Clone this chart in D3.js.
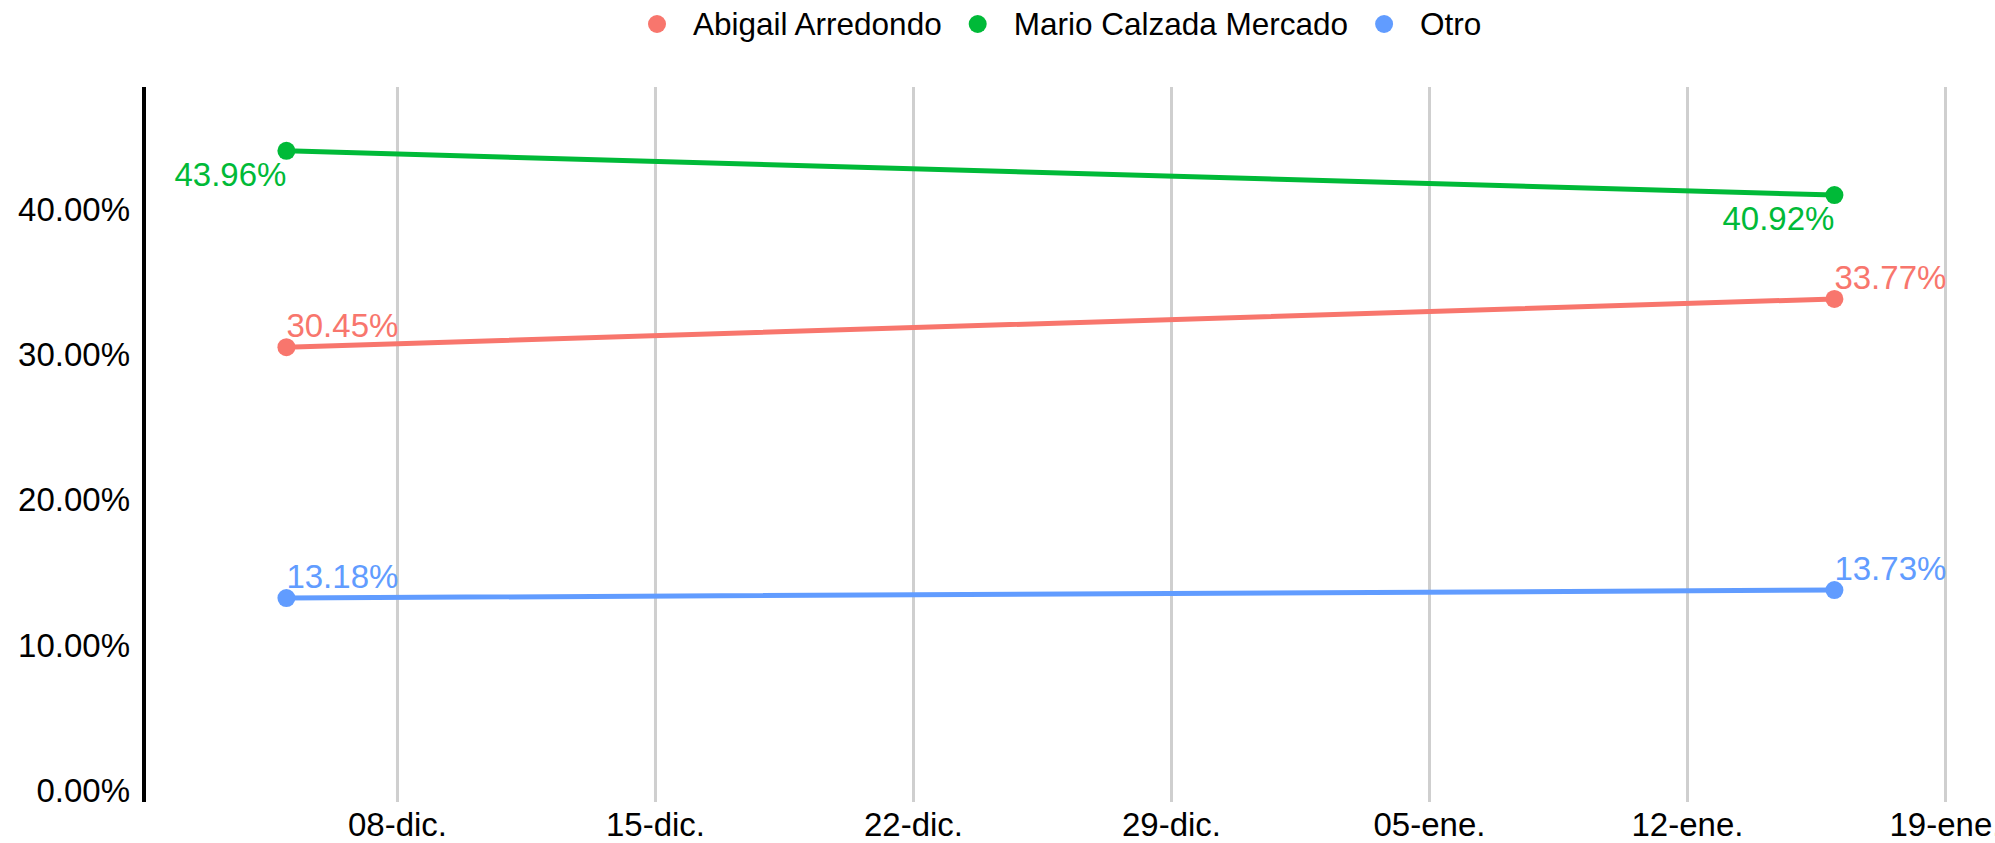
<!DOCTYPE html>
<html>
<head>
<meta charset="utf-8">
<script src="https://cdn.jsdelivr.net/npm/d3@7"></script>
<style>
  html, body { margin: 0; padding: 0; background: #ffffff; }
  svg { display: block; font-family: "Liberation Sans", Arial, Helvetica, sans-serif; }
</style>
</head>
<body>
<svg id="chart" width="1995" height="843"></svg>
<script>
// ---- data ----
const dates = ["2024-12-05", "2025-01-16"];
const seriesNames = ["Abigail Arredondo", "Mario Calzada Mercado", "Otro"];
const abigail = [30.45, 33.77];
const mario = [43.96, 40.92];
const otro = [13.18, 13.73];
const yTickValues = [0, 10, 20, 30, 40];
const xTickDates = ["2024-12-08", "2024-12-15", "2024-12-22", "2024-12-29", "2025-01-05", "2025-01-12", "2025-01-19"];
const colors = ["#F8766D", "#00BA38", "#619CFF"];

const seriesValues = [abigail, mario, otro];
const parse = d3.timeParse("%Y-%m-%d");

const es = d3.timeFormatLocale({
  dateTime: "%A, %e de %B de %Y, %X", date: "%d/%m/%Y", time: "%H:%M:%S",
  periods: ["AM", "PM"],
  days: ["domingo","lunes","martes","miércoles","jueves","viernes","sábado"],
  shortDays: ["dom","lun","mar","mié","jue","vie","sáb"],
  months: ["enero","febrero","marzo","abril","mayo","junio","julio","agosto","septiembre","octubre","noviembre","diciembre"],
  shortMonths: ["ene","feb","mar","abr","may","jun","jul","ago","sep","oct","nov","dic"]
});
const fmtX = es.format("%d-%b.");

const svg = d3.select("#chart");
const W = 1995, H = 843;
const plotLeft = 144, plotTop = 87, plotBottom = 802;

const x = d3.scaleTime()
  .domain([new Date(2024, 11, 1, 3, 16), new Date(2025, 0, 20, 8, 34)])
  .range([plotLeft, W]);

const maxVal = d3.max(seriesValues.flat());
const y = d3.scaleLinear()
  .domain([0, maxVal * 1.1])
  .range([789.5, plotTop]);

// vertical gridlines
const xAxis = d3.axisBottom(x)
  .tickValues(xTickDates.map(parse))
  .tickFormat(fmtX)
  .tickSize(-(plotBottom - plotTop))
  .tickSizeOuter(0);

const gx = svg.append("g")
  .attr("transform", `translate(0,${plotBottom})`)
  .call(xAxis);
gx.select(".domain").remove();
gx.selectAll(".tick line")
  .attr("stroke", "#cfcfcf")
  .attr("stroke-width", 3);
gx.selectAll(".tick text")
  .attr("fill", "#000")
  .attr("font-size", 33)
  .attr("y", 0)
  .attr("dy", 34);

// y axis
const yAxis = d3.axisLeft(y)
  .tickValues(yTickValues)
  .tickFormat(d => d3.format(".2f")(d) + "%")
  .tickSize(0)
  .tickPadding(14);
const gy = svg.append("g")
  .attr("transform", `translate(${plotLeft},0)`)
  .call(yAxis);
gy.select(".domain").remove();
gy.selectAll(".tick text")
  .attr("fill", "#000")
  .attr("font-size", 33)
  .attr("dy", "0.36em");
svg.append("line")
  .attr("x1", plotLeft).attr("x2", plotLeft)
  .attr("y1", plotTop).attr("y2", plotBottom)
  .attr("stroke", "#000")
  .attr("stroke-width", 4);

// lines, points, labels
const line = d3.line()
  .x((d, i) => x(parse(dates[i])))
  .y(d => y(d));

seriesValues.forEach((vals, si) => {
  const c = colors[si];
  const isTop = d3.mean(vals) === d3.max(seriesValues, v => d3.mean(v));
  svg.append("path")
    .datum(vals)
    .attr("d", line)
    .attr("fill", "none")
    .attr("stroke", c)
    .attr("stroke-width", 5)
    .attr("stroke-linecap", "round");
  svg.selectAll(null)
    .data(vals)
    .enter().append("circle")
    .attr("cx", (d, i) => x(parse(dates[i])))
    .attr("cy", d => y(d))
    .attr("r", 9)
    .attr("fill", c);
  svg.selectAll(null)
    .data(vals)
    .enter().append("text")
    .attr("x", (d, i) => x(parse(dates[i])))
    .attr("y", d => y(d) + (isTop ? 35 : -10))
    .attr("text-anchor", isTop ? "end" : "start")
    .attr("font-size", 33)
    .attr("fill", c)
    .text(d => d3.format(".2f")(d) + "%");
});

// legend
const legend = svg.append("g");
let cx = 657;
seriesNames.forEach((name, i) => {
  legend.append("circle")
    .attr("cx", cx).attr("cy", 24).attr("r", 9)
    .attr("fill", colors[i]);
  const t = legend.append("text")
    .attr("x", cx + 36).attr("y", 35)
    .attr("font-size", 31.5)
    .attr("fill", "#000")
    .text(name);
  cx = cx + 36 + t.node().getComputedTextLength() + 36;
});
</script>
</body>
</html>
